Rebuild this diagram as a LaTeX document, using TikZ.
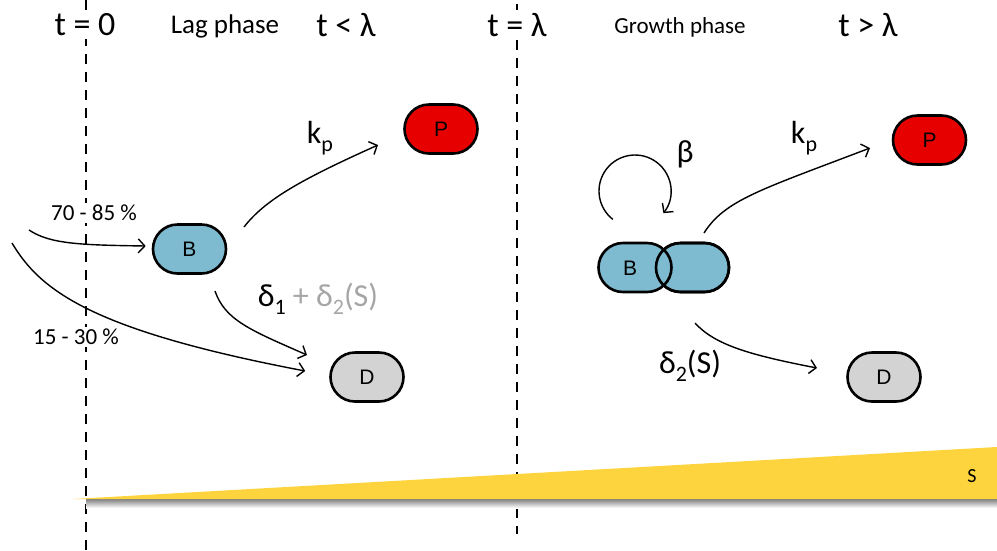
\documentclass[tikz,border=0pt]{standalone}
\usepackage{fontspec}
\setmainfont{Carlito}
\newfontfamily\lettfont{Liberation Sans}
\usetikzlibrary{shapes.misc,arrows.meta}
\definecolor{bblue}{RGB}{127,187,208}
\definecolor{pred}{RGB}{230,0,0}
\definecolor{dgray}{RGB}{211,211,211}
\definecolor{sub}{RGB}{254,212,62}
\definecolor{lgray}{RGB}{166,166,166}
\newcommand\lowsub[1]{\raisebox{-0.5ex}{\fontsize{22}{22}\selectfont #1}}
\tikzset{
  cell/.style={rounded rectangle, minimum width=73pt, minimum height=49pt, inner sep=0pt,
     draw=black, line width=2.6pt, font=\lettfont\fontsize{21}{21}\selectfont},
  bcell/.style={cell, fill=bblue},
  pcell/.style={cell, fill=pred},
  dcell/.style={cell, fill=dgray},
  vline/.style={line width=1.4pt, dash pattern=on 10pt off 8pt},
  arr/.style={line width=1.4pt, -{Straight Barb[length=6.5pt,width=14pt,line width=1.4pt]}},
  tlab/.style={font=\fontsize{34}{34}\selectfont, fill=white, inner sep=3pt},
  phase/.style={font=\fontsize{23}{23}\selectfont},
  pct/.style={font=\fontsize{23}{23}\selectfont, fill=white, inner sep=2pt},
  rate/.style={font=\fontsize{32}{32}\selectfont},
}
\begin{document}
\begin{tikzpicture}[x=1pt,y=-1pt]
\useasboundingbox (0,0) rectangle (997,550);
% dashed lines
\coordinate (l1t) at (86,0);
\coordinate (l1b) at (86,550);
\coordinate (l2t) at (517,4);
\coordinate (l2b) at (517,534);
\draw[vline] (l1t) -- (l1b);
\draw[vline] (l2t) -- (l2b);
% substrate wedge
\shade[top color=black!50, bottom color=white] (86,499) rectangle (997,508);
\coordinate (s1) at (73,499);
\coordinate (s2) at (997,447);
\coordinate (s3) at (997,499);
\fill[sub] (s1) -- (s2) -- (s3) -- cycle;
\node[font=\fontsize{20}{20}\selectfont] (slab) at (972,476) {S};
% header labels
\node[tlab] (t0) at (85,25) {t = 0};
\node[phase, font=\fontsize{27}{27}\selectfont] (lag) at (225,26) {Lag phase};
\node[tlab] (tl) at (346,25) {t < λ};
\node[tlab] (te) at (517,25) {t = λ};
\node[phase] (grow) at (680,27) {Growth phase};
\node[tlab] (tg) at (868,25) {t > λ};
% lag phase nodes
\node[bcell] (B1) at (189.5,249) {B};
\node[pcell] (P1) at (441,129) {P};
\node[dcell] (D1) at (367,377) {D};
% growth phase nodes
\node[bcell] (B2r) at (692.5,267.5) {};
\node[bcell] (B2) at (635,267.5) {};
\node[cell] (B2o) at (692.5,267.5) {};
\node[font=\lettfont\fontsize{21}{21}\selectfont] (B2lab) at (630,268) {B};
\node[pcell] (P2) at (929.5,140) {P};
\node[dcell] (D2) at (884,377) {D};
% percentage labels
\node[pct] (p70) at (94,213) {70 - 85 \%};
\node[pct] (p15) at (76,337) {15 - 30 \%};
% lag-phase connectors
\coordinate (in1) at (29,230);
\coordinate (in2) at (12,243);
\draw[arr] (in1) .. controls (50,244) and (80,245) .. ([xshift=-6pt,yshift=3pt]B1.west);
\draw[arr] (in2) .. controls (40,290) and (90,330) .. ([xshift=-24pt,yshift=6pt]D1.west);
\coordinate (k1s) at (244,227);
\coordinate (k1e) at (378,145);
\draw[arr] (k1s) .. controls (265,200) and (300,180) .. (k1e);
\coordinate (d1s) at (215,291);
\coordinate (d1e) at (307,355);
\draw[arr] (d1s) .. controls (225,320) and (250,330) .. (d1e);
\node[rate] (kp1) at (320,138) {k\lowsub{p}};
\node[rate] (del1) at (318,299) {δ\lowsub{1}\textcolor{lgray}{\ + δ\lowsub{2}(S)}};
% growth-phase connectors
\coordinate (k2s) at (704,233);
\coordinate (k2e) at (870,148);
\draw[arr] (k2s) .. controls (725,200) and (760,190) .. (k2e);
\coordinate (d2s) at (695,323);
\coordinate (d2e) at (817,368);
\draw[arr] (d2s) .. controls (715,345) and (750,355) .. (d2e);
\coordinate (bc) at (635,191);
\draw[arr] ([shift={(232:36pt)}]bc) arc[start angle=232, end angle=-38, radius=36pt];
\node[rate] (kp2) at (804,138) {k\lowsub{p}};
\node[rate] (del2) at (690,366) {δ\lowsub{2}(S)};
\node[rate] (beta) at (685,154) {β};
\end{tikzpicture}
\end{document}
